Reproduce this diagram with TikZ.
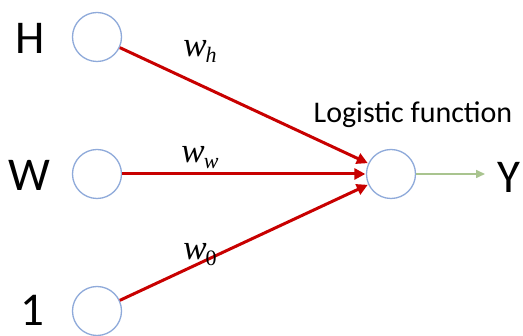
\documentclass[tikz,border=0pt]{standalone}
\usepackage{fontspec}
\setmainfont{Carlito}
\newfontfamily\wfont{Liberation Serif}
\usetikzlibrary{arrows.meta}
\definecolor{cblue}{RGB}{143,170,218}
\definecolor{cred}{RGB}{200,0,0}
\definecolor{cgreen}{RGB}{169,196,143}
\newcommand{\wsub}[1]{{\fontsize{35}{35}\selectfont\wfont\itshape w}\kern-1pt\raisebox{-6pt}{\fontsize{22}{22}\selectfont\wfont #1}}
\tikzset{
  neuron/.style={circle,draw=cblue,line width=1.3pt,fill=white,minimum size=49pt,inner sep=0pt},
  biglabel/.style={font=\fontsize{47}{47}\selectfont,inner sep=0pt},
  wlabel/.style={inner sep=0pt},
  redarrow/.style={draw=cred,line width=3pt,-{Triangle[length=11pt,width=11pt]},shorten >=0.5pt},
  greenarrow/.style={draw=cgreen,line width=1.6pt,-{Triangle[length=9pt,width=8pt]}}
}
\begin{document}
\begin{tikzpicture}[x=1pt,y=-1pt]
\useasboundingbox (0,0) rectangle (523,336);
\node[neuron] (h) at (97,37) {};
\node[neuron] (w) at (97,174) {};
\node[neuron] (one) at (97,311) {};
\node[neuron] (out) at (391,174) {};
\node[biglabel] (lh) at (30,38) {H};
\node[biglabel] (lw) at (29,175) {W};
\node[biglabel] (l1) at (32,310) {1};
\node[biglabel,anchor=west] (ly) at (497,177) {Y};
\coordinate (yend) at (485,174);
\node[font=\fontsize{30}{30}\selectfont,inner sep=0pt] (lf) at (413,115) {Logistic function};
\draw[redarrow] (h) -- (out);
\draw[redarrow] (w) -- (out);
\draw[redarrow] (one) -- (out);
\draw[greenarrow] (out) -- (yend);
\node[wlabel] (wh) at (200,51) {\wsub{\itshape h}};
\node[wlabel] (ww) at (200,158) {\wsub{\itshape w}};
\node[wlabel] (w0) at (200,255) {\wsub{0}};
\end{tikzpicture}
\end{document}
